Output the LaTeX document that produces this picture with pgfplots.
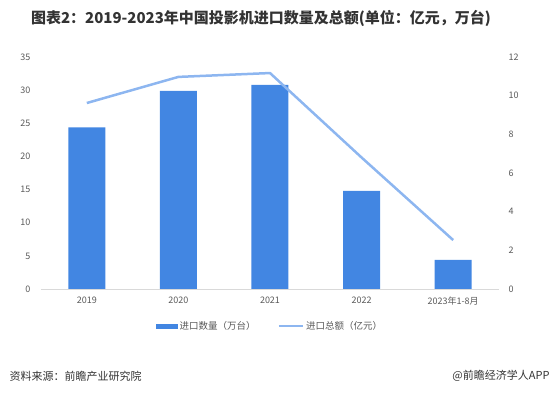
\documentclass[border=0pt]{standalone}
\usepackage{pgfplots}
\pgfplotsset{compat=1.18}
\usepackage{fontspec}
\setmainfont{Liberation Sans}
\newfontfamily\cjk{Noto Sans CJK SC}
\definecolor{barblue}{RGB}{66,134,226}
\definecolor{lineblue}{RGB}{141,182,240}
\definecolor{ticktext}{RGB}{89,89,89}
\definecolor{titletext}{RGB}{51,51,51}
\definecolor{axisgray}{RGB}{217,217,217}
\begin{document}
\begin{tikzpicture}[x=1pt,y=1pt]
\path[use as bounding box] (0,0) rectangle (555,396);
\node[font=\cjk\bfseries\fontsize{15}{17}\selectfont, text=titletext] at (261,378) {图表2：2019-2023年中国投影机进口数量及总额(单位：亿元，万台)};
\begin{axis}[
  at={(41pt,107pt)}, anchor=south west,
  width=458pt, height=232pt, scale only axis,
  xmin=-0.5, xmax=4.5, ymin=0, ymax=35,
  ytick={0,5,...,35},
  xtick={0,1,2,3,4},
  xticklabels={2019,2020,2021,2022,2023年1-8月},
  axis x line*=bottom, axis y line*=left,
  y axis line style={draw=none},
  x axis line style={draw=axisgray, line width=0.8pt},
  major tick length=0pt,
  tick label style={font=\cjk\fontsize{9}{11}\selectfont, text=ticktext},
  /pgf/number format/assume math mode=true,
  yticklabel style={xshift=-7pt},
  xticklabel style={yshift=-4pt},
  legend style={at={(0.5,-0.16)}, anchor=center, draw=none, legend columns=2,
    font=\cjk\fontsize{9.5}{11}\selectfont, text=ticktext,
    /tikz/every even column/.append style={column sep=20pt}},
  legend image code/.code={\fill[barblue] (0pt,-2.5pt) rectangle (22pt,2.5pt);},
]
\addplot[ybar, bar width=37pt, fill=barblue, draw=none] coordinates {(0,24.4) (1,29.9) (2,30.8) (3,14.8) (4,4.4)};
\addlegendentry{进口数量（万台）}
\addlegendimage{legend image code/.code={\draw[lineblue, line width=2.5pt] (0pt,0pt) -- (24pt,0pt);}}
\addlegendentry{进口总额（亿元）}
\end{axis}
\begin{axis}[
  at={(41pt,107pt)}, anchor=south west,
  width=458pt, height=232pt, scale only axis,
  xmin=-0.5, xmax=4.5, ymin=0, ymax=12,
  ytick={0,2,...,12},
  axis y line*=right, axis x line=none,
  y axis line style={draw=none},
  major tick length=0pt,
  tick label style={font=\cjk\fontsize{9}{11}\selectfont, text=ticktext},
  /pgf/number format/assume math mode=true,
  yticklabel style={xshift=6pt},
]
\addplot[lineblue, line width=2.5pt, mark=none] coordinates {(0,9.62) (1,10.97) (2,11.17) (3,6.8) (4,2.53)};
\end{axis}
\node[font=\cjk\fontsize{11}{13}\selectfont, text=titletext, anchor=west] at (6,20) {资料来源：前瞻产业研究院};
\node[font=\cjk\fontsize{11}{13}\selectfont, text=titletext, anchor=east] at (553,20) {@前瞻经济学人APP};
\end{tikzpicture}
\end{document}
